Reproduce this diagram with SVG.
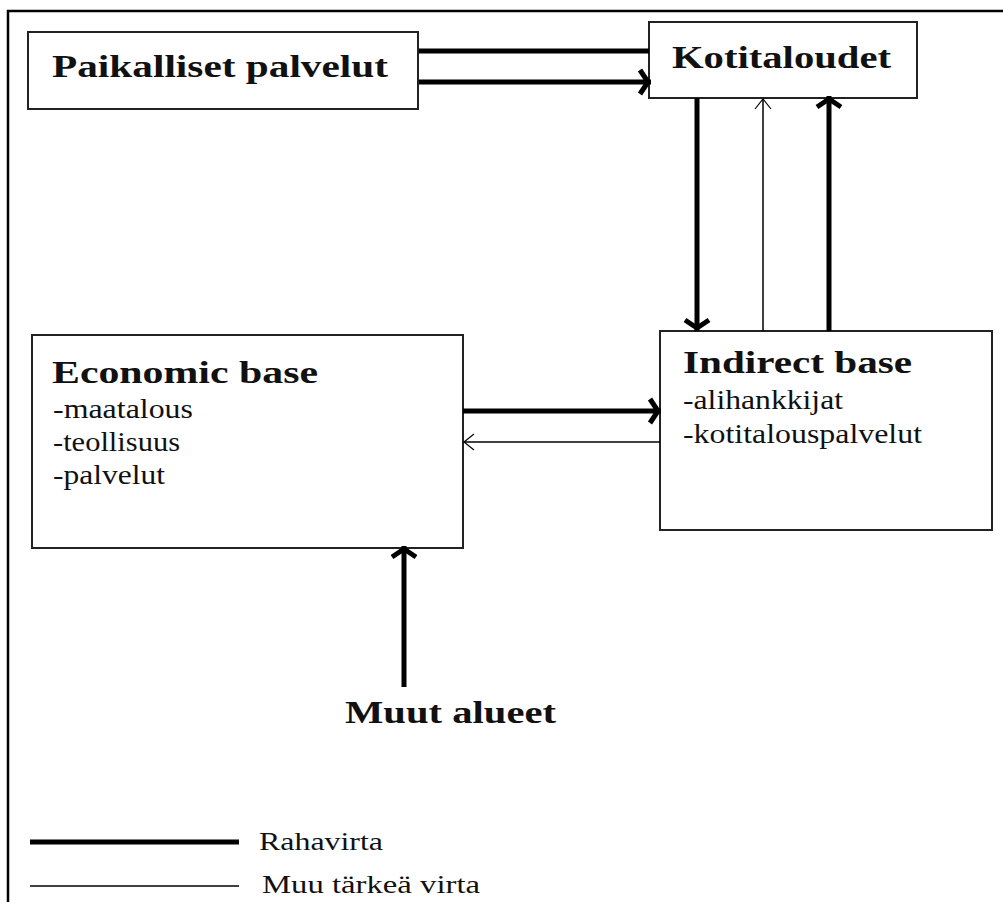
<svg xmlns="http://www.w3.org/2000/svg" width="1003" height="902" viewBox="0 0 1003 902">
<style>
.box{fill:#fff;stroke:#222;stroke-width:2}
text{font-family:"Liberation Serif","Times New Roman",serif;fill:#111}
.title{font-weight:bold;font-size:32px}
.item{font-size:27px}
.leg{font-size:25px}
.thick{stroke:#000;stroke-width:5;fill:none}
.thin{stroke:#000;stroke-width:1.5;fill:none}
</style>
<defs>
<marker id="hThick" markerUnits="userSpaceOnUse" viewBox="-20 -20 40 40" markerWidth="40" markerHeight="40" refX="0" refY="0" orient="auto" overflow="visible">
<path d="M-11,-12 L-3,0 L-11,12" fill="none" stroke="#000" stroke-width="5" stroke-linejoin="miter"/>
</marker>
<marker id="hThin" markerUnits="userSpaceOnUse" viewBox="-20 -20 40 40" markerWidth="40" markerHeight="40" refX="0" refY="0" orient="auto" overflow="visible">
<path d="M-10,-8 L0,0 L-10,8" fill="none" stroke="#000" stroke-width="1.2"/>
</marker>
</defs>
<rect width="1003" height="902" fill="#fff"/>
<g id="frame">
<path d="M8,902 L8,11 L1003,11" fill="none" stroke="#000" stroke-width="2.5"/>
</g>
<g id="paikalliset">
<rect class="box" x="28" y="32" width="390" height="77"/>
<text class="title" x="52" y="77" textLength="336" lengthAdjust="spacingAndGlyphs" font-family="Liberation Serif, serif">Paikalliset palvelut</text>
</g>
<g id="kotitaloudet">
<rect class="box" x="649" y="22" width="268" height="76"/>
<text class="title" x="672" y="68" textLength="219" lengthAdjust="spacingAndGlyphs" font-family="Liberation Serif, serif">Kotitaloudet</text>
</g>
<g id="economic">
<rect class="box" x="32" y="335" width="431" height="213"/>
<text class="title" x="52" y="383" textLength="266" lengthAdjust="spacingAndGlyphs" font-family="Liberation Serif, serif">Economic base</text>
<text class="item" x="53" y="418" textLength="140" lengthAdjust="spacingAndGlyphs" font-family="Liberation Serif, serif">-maatalous</text>
<text class="item" x="53" y="451" textLength="127" lengthAdjust="spacingAndGlyphs" font-family="Liberation Serif, serif">-teollisuus</text>
<text class="item" x="53" y="484" textLength="112" lengthAdjust="spacingAndGlyphs" font-family="Liberation Serif, serif">-palvelut</text>
</g>
<g id="indirect">
<rect class="box" x="660" y="331" width="332" height="199"/>
<text class="title" x="683" y="373" textLength="229" lengthAdjust="spacingAndGlyphs" font-family="Liberation Serif, serif">Indirect base</text>
<text class="item" x="683" y="409" textLength="160" lengthAdjust="spacingAndGlyphs" font-family="Liberation Serif, serif">-alihankkijat</text>
<text class="item" x="683" y="443" textLength="239" lengthAdjust="spacingAndGlyphs" font-family="Liberation Serif, serif">-kotitalouspalvelut</text>
</g>
<g id="muut">
<text class="title" x="345" y="723" textLength="211" lengthAdjust="spacingAndGlyphs" font-family="Liberation Serif, serif">Muut alueet</text>
</g>
<g id="connectors">
<line class="thick" x1="419" y1="51" x2="649" y2="51"/>
<line class="thick" x1="419" y1="82" x2="651" y2="82" marker-end="url(#hThick)"/>
<line class="thick" x1="697" y1="98" x2="697" y2="331" marker-end="url(#hThick)"/>
<line class="thin" x1="763" y1="331" x2="763" y2="99" marker-end="url(#hThin)"/>
<line class="thick" x1="829" y1="331" x2="829" y2="96" marker-end="url(#hThick)"/>
<line class="thick" x1="463" y1="411" x2="661" y2="411" marker-end="url(#hThick)"/>
<line class="thin" x1="660" y1="442" x2="464" y2="442" marker-end="url(#hThin)"/>
<line class="thick" x1="404" y1="687" x2="404" y2="546" marker-end="url(#hThick)"/>
</g>
<g id="legend">
<line x1="30" y1="842" x2="239" y2="842" stroke="#000" stroke-width="5"/>
<line x1="30" y1="886" x2="239" y2="886" stroke="#000" stroke-width="1.5"/>
<text class="leg" x="259" y="850" textLength="124" lengthAdjust="spacingAndGlyphs" font-family="Liberation Serif, serif">Rahavirta</text>
<text class="leg" x="262" y="893" textLength="218" lengthAdjust="spacingAndGlyphs" font-family="Liberation Serif, serif">Muu tärkeä virta</text>
</g>
</svg>
